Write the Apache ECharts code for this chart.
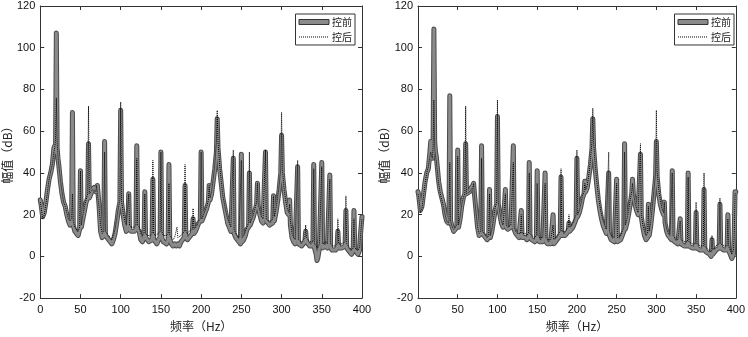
<!DOCTYPE html>
<html>
<head>
<meta charset="utf-8">
<script src="https://cdn.jsdelivr.net/npm/echarts@6/dist/echarts.min.js"></script>
<style>
html,body{margin:0;padding:0;background:#fff;}
#c{width:748px;height:337px;}
</style>
</head>
<body>
<div id="c"></div>
<script>
// ---- Data (frequency Hz, amplitude dB) ----
var xTicks = [0, 50, 100, 150, 200, 250, 300, 350, 400];
var yTicks = [-20, 0, 20, 40, 60, 80, 100, 120];
var seriesNames = ['控前', '控后'];

var leftBefore = [[0,27],[1,25],[3,19],[5,21],[7,26],[9,32],[11,37],[13,40],[15,44],[17,52],[18,53],[19,50],[20,107],[21,52],[22,47],[23,44],[25,36],[27,30],[29,26],[31,24],[33,20],[35,17],[37,15],[39,16],[40,69],[41,15],[43,12],[45,11],[47,10],[49,13],[50,41],[51,14],[53,18],[55,22],[57,26],[59,28],[60,54],[61,28],[63,30],[65,32],[67,33],[69,31],[71,34],[73,25],[75,12],[77,9],[79,10],[80,55],[81,10],[83,9],[85,8],[87,7],[89,6],[91,8],[93,11],[95,16],[97,22],[99,26],[100,70],[101,26],[103,20],[105,15],[107,12],[109,13],[110,30],[111,13],[113,12],[115,12],[117,12],[119,13],[120,53],[121,13],[123,12],[125,8],[127,7],[129,9],[130,31],[131,9],[133,8],[135,7],[137,7],[139,8],[140,37],[141,8],[143,7],[145,6],[147,8],[149,9],[150,50],[151,9],[153,7],[155,7],[157,6],[159,8],[160,44],[161,8],[163,6],[165,5],[167,6],[169,5],[171,6],[173,5],[175,7],[177,8],[179,9],[180,34],[181,9],[183,8],[185,9],[187,10],[189,11],[190,18],[191,11],[193,12],[195,14],[197,16],[199,17],[200,50],[201,17],[203,19],[205,21],[207,23],[209,26],[210,34],[211,27],[213,30],[215,36],[217,42],[219,50],[220,66],[221,52],[223,42],[225,35],[227,28],[229,24],[231,20],[233,16],[235,14],[237,12],[239,12],[240,47],[241,11],[243,9],[245,8],[247,7],[249,6],[250,49],[251,7],[253,8],[255,10],[257,13],[259,14],[260,40],[261,15],[263,17],[265,19],[267,22],[269,25],[270,35],[271,24],[273,20],[275,17],[277,16],[279,16],[280,50],[281,17],[283,16],[285,15],[287,15],[289,16],[290,29],[291,17],[293,21],[295,26],[297,32],[299,40],[300,58],[301,40],[303,32],[305,26],[307,21],[309,20],[310,27],[311,15],[313,9],[315,7],[317,6],[319,6],[320,43],[321,6],[323,6],[325,5],[327,6],[329,7],[330,12],[331,7],[333,6],[335,5],[337,5],[339,5],[340,44],[341,4],[343,1],[344,-2],[345,-1],[347,4],[349,4],[350,45],[351,4],[353,4],[355,5],[357,4],[359,4],[360,39],[361,4],[363,3],[365,3],[367,3],[369,4],[370,12],[371,4],[373,4],[375,4],[377,4],[379,5],[380,22],[381,4],[383,3],[385,2],[387,1],[389,3],[390,22],[391,3],[393,2],[395,1],[397,3],[398,10],[400,19]];

var leftAfter = [[0,26],[1,24],[3,18],[5,20],[7,25],[9,31],[11,37],[13,41],[15,44],[17,50],[18,52],[19,56],[20,76],[21,55],[22,48],[23,44],[25,37],[27,31],[29,26],[31,24],[33,21],[35,18],[37,17],[39,18],[40,30],[41,17],[43,14],[45,13],[47,12],[49,14],[50,41],[51,15],[53,20],[55,24],[57,27],[59,30],[60,72],[61,30],[63,31],[65,32],[67,32],[69,31],[70,34],[71,30],[73,24],[75,15],[77,11],[79,12],[80,50],[81,12],[83,11],[85,10],[87,9],[89,8],[91,10],[93,13],[95,18],[97,23],[99,27],[100,74],[101,27],[103,21],[105,17],[107,15],[109,15],[110,30],[111,15],[113,14],[115,14],[117,14],[119,15],[120,47],[121,15],[123,14],[125,11],[127,10],[129,11],[130,30],[131,11],[133,10],[135,10],[137,10],[139,11],[140,46],[141,11],[143,10],[145,10],[147,11],[149,12],[150,50],[151,12],[153,10],[155,10],[157,10],[159,11],[160,35],[161,10],[163,9],[165,8],[167,9],[169,9],[170,14],[171,9],[173,9],[175,10],[177,11],[179,12],[180,44],[181,12],[183,11],[185,12],[187,12],[189,13],[190,23],[191,13],[193,14],[195,15],[197,17],[199,18],[200,50],[201,18],[203,20],[205,22],[207,24],[209,27],[210,34],[211,28],[213,31],[215,37],[217,44],[219,55],[220,70],[221,55],[223,44],[225,36],[227,29],[229,25],[231,21],[233,18],[235,16],[237,14],[239,14],[240,51],[241,13],[243,11],[245,10],[247,9],[249,9],[250,46],[251,9],[253,10],[255,12],[257,14],[259,16],[260,50],[261,16],[263,18],[265,20],[267,23],[269,26],[270,35],[271,25],[273,22],[275,19],[277,18],[279,18],[280,51],[281,18],[283,17],[285,17],[287,17],[289,18],[290,29],[291,19],[293,23],[295,28],[297,34],[299,42],[300,69],[301,42],[303,33],[305,27],[307,23],[309,21],[310,25],[311,17],[313,11],[315,9],[317,8],[319,8],[320,46],[321,8],[323,8],[325,7],[327,8],[329,9],[330,15],[331,9],[333,8],[335,7],[337,7],[339,7],[340,42],[341,6],[343,5],[345,4],[347,6],[349,6],[350,43],[351,6],[353,6],[355,7],[357,6],[359,6],[360,37],[361,6],[363,5],[365,5],[367,5],[369,6],[370,18],[371,6],[373,6],[375,6],[377,6],[379,7],[380,29],[381,6],[383,5],[385,4],[387,3],[389,4],[390,18],[391,4],[393,4],[395,3],[397,4],[398,9],[400,18]];

var rightBefore = [[0,31],[1,29],[3,22],[5,24],[7,30],[9,36],[11,40],[13,42],[15,50],[16,55],[17,50],[18,47],[19,55],[20,109],[21,55],[22,50],[23,48],[24,44],[26,36],[28,31],[30,28],[32,25],[34,20],[36,17],[38,16],[39,17],[40,77],[41,17],[43,14],[45,12],[47,12],[49,14],[50,51],[51,14],[53,18],[55,24],[57,28],[59,30],[60,54],[61,30],[63,30],[65,31],[67,33],[69,34],[70,35],[71,30],[73,22],[75,14],[77,10],[79,11],[80,53],[81,11],[83,10],[85,9],[87,8],[89,9],[90,32],[91,9],[93,12],[95,17],[97,22],[99,25],[100,67],[101,25],[103,20],[105,16],[107,14],[109,14],[110,32],[111,14],[113,13],[115,13],[117,14],[119,14],[120,53],[121,13],[123,11],[125,10],[127,9],[129,9],[130,22],[131,9],[133,9],[135,9],[137,8],[139,9],[140,45],[141,9],[143,8],[145,8],[147,7],[149,8],[150,41],[151,8],[153,7],[155,7],[157,7],[159,7],[160,40],[161,7],[163,6],[165,6],[167,6],[169,6],[170,20],[171,6],[173,7],[175,8],[177,9],[179,10],[180,38],[181,10],[183,10],[185,10],[187,11],[189,12],[190,16],[191,12],[193,13],[195,14],[197,16],[199,18],[200,47],[201,19],[203,21],[205,24],[207,28],[209,30],[210,36],[211,31],[213,33],[215,38],[217,44],[219,52],[220,66],[221,52],[223,42],[225,34],[227,27],[229,22],[231,18],[233,15],[235,13],[237,11],[239,11],[240,40],[241,10],[243,8],[245,8],[247,7],[249,7],[250,37],[251,7],[253,7],[255,8],[257,10],[259,12],[260,54],[261,13],[263,16],[265,20],[267,25],[269,30],[270,37],[271,30],[273,25],[275,22],[277,20],[279,20],[280,49],[281,19],[283,14],[285,10],[287,8],[289,9],[290,25],[291,10],[293,15],[295,22],[297,30],[299,38],[300,55],[301,38],[303,30],[305,25],[307,22],[309,20],[310,26],[311,16],[313,12],[315,10],[317,9],[319,8],[320,41],[321,8],[323,7],[325,7],[327,6],[329,6],[330,18],[331,6],[333,6],[335,5],[337,5],[339,5],[340,40],[341,5],[343,5],[345,4],[347,4],[349,4],[350,21],[351,4],[353,4],[355,3],[357,3],[359,3],[360,32],[361,3],[363,2],[365,2],[367,1],[369,0],[370,8],[371,1],[373,2],[375,3],[377,3],[379,4],[380,25],[381,4],[383,4],[385,3],[387,3],[389,3],[390,20],[391,3],[393,1],[395,-1],[397,1],[398,10],[399,31],[400,31]];

var rightAfter = [[0,30],[1,28],[3,21],[5,23],[7,29],[9,35],[11,40],[13,43],[15,48],[16,50],[17,48],[18,47],[19,52],[20,75],[21,52],[22,48],[23,46],[24,42],[26,35],[28,30],[30,27],[32,24],[34,20],[36,17],[38,16],[39,17],[40,45],[41,17],[43,14],[45,13],[47,13],[49,15],[50,48],[51,15],[53,19],[55,25],[57,28],[59,30],[60,72],[61,30],[63,30],[65,31],[67,32],[69,33],[70,35],[71,29],[73,21],[75,14],[77,11],[79,12],[80,47],[81,12],[83,11],[85,10],[87,9],[89,10],[90,30],[91,10],[93,13],[95,18],[97,23],[99,26],[100,75],[101,26],[103,21],[105,17],[107,15],[109,15],[110,30],[111,15],[113,14],[115,14],[117,15],[119,15],[120,45],[121,14],[123,12],[125,11],[127,11],[129,11],[130,20],[131,11],[133,11],[135,11],[137,10],[139,11],[140,40],[141,11],[143,10],[145,10],[147,9],[149,10],[150,35],[151,10],[153,9],[155,9],[157,9],[159,9],[160,35],[161,9],[163,8],[165,8],[167,8],[169,8],[170,15],[171,8],[173,9],[175,10],[177,11],[179,12],[180,42],[181,12],[183,12],[185,12],[187,13],[189,14],[190,20],[191,14],[193,15],[195,16],[197,18],[199,20],[200,51],[201,20],[203,22],[205,25],[207,29],[209,31],[210,35],[211,32],[213,34],[215,39],[217,46],[219,55],[220,71],[221,55],[223,44],[225,36],[227,29],[229,24],[231,20],[233,17],[235,15],[237,13],[239,13],[240,50],[241,12],[243,10],[245,10],[247,9],[249,9],[250,35],[251,9],[253,9],[255,10],[257,12],[259,14],[260,50],[261,15],[263,18],[265,22],[267,27],[269,31],[270,35],[271,31],[273,26],[275,23],[277,21],[279,21],[280,54],[281,20],[283,15],[285,12],[287,10],[289,11],[290,24],[291,12],[293,17],[295,24],[297,32],[299,40],[300,70],[301,40],[303,32],[305,27],[307,23],[309,21],[310,26],[311,17],[313,13],[315,11],[317,10],[319,10],[320,40],[321,10],[323,9],[325,9],[327,8],[329,8],[330,17],[331,8],[333,8],[335,7],[337,7],[339,7],[340,38],[341,7],[343,7],[345,6],[347,6],[349,6],[350,26],[351,6],[353,6],[355,5],[357,5],[359,5],[360,40],[361,5],[363,4],[365,4],[367,3],[369,2],[370,10],[371,3],[373,4],[375,5],[377,5],[379,6],[380,28],[381,6],[383,6],[385,5],[387,5],[389,5],[390,18],[391,5],[393,3],[395,1],[397,3],[398,10],[399,30],[400,30]];

// ---- Chart ----
var chart = echarts.init(document.getElementById('c'), null, {renderer: 'canvas'});
var FONT = '"Liberation Sans", Arial, "Noto Sans CJK SC", sans-serif';
var CJK = '"Noto Sans CJK SC", "Liberation Sans", sans-serif';
var frameColor = '#333';

var grids = [
  {left: 39, top: 6, width: 323, height: 293},
  {left: 418, top: 6, width: 322, height: 293}
];

function xMain(gi) {
  return {
    type: 'value', gridIndex: gi, min: xTicks[0], max: xTicks[xTicks.length - 1], interval: 50,
    position: 'bottom',
    name: '频率（Hz）', nameLocation: 'middle', nameGap: 19,
    nameTextStyle: {fontFamily: CJK, fontSize: 12, color: '#222'},
    axisLine: {show: true, onZero: false, lineStyle: {color: frameColor, width: 1}},
    axisTick: {show: true, inside: true, length: 4, lineStyle: {color: frameColor}},
    axisLabel: {margin: 6, fontFamily: FONT, fontSize: 11, color: '#111'},
    splitLine: {show: false}
  };
}
function xTop(gi) {
  return {
    type: 'value', gridIndex: gi, min: xTicks[0], max: xTicks[xTicks.length - 1], interval: 50,
    position: 'top',
    axisLine: {show: true, onZero: false, lineStyle: {color: frameColor, width: 1}},
    axisTick: {show: true, inside: true, length: 4, lineStyle: {color: frameColor}},
    axisLabel: {show: false}, splitLine: {show: false}
  };
}
function yMain(gi) {
  return {
    type: 'value', gridIndex: gi, min: yTicks[0], max: yTicks[yTicks.length - 1], interval: 20,
    position: 'left',
    name: '幅值（dB）', nameLocation: 'middle', nameGap: 22, nameRotate: 90,
    nameTextStyle: {fontFamily: CJK, fontSize: 12, color: '#222'},
    axisLine: {show: true, onZero: false, lineStyle: {color: frameColor, width: 1}},
    axisTick: {show: true, inside: true, length: 4, lineStyle: {color: frameColor}},
    axisLabel: {margin: 5, fontFamily: FONT, fontSize: 11, color: '#111'},
    splitLine: {show: false}
  };
}
function yRight(gi) {
  return {
    type: 'value', gridIndex: gi, min: yTicks[0], max: yTicks[yTicks.length - 1], interval: 20,
    position: 'right',
    axisLine: {show: true, onZero: false, lineStyle: {color: frameColor, width: 1}},
    axisTick: {show: true, inside: true, length: 4, lineStyle: {color: frameColor}},
    axisLabel: {show: false}, splitLine: {show: false}
  };
}

function beforeSeries(data, ax) {
  return [
    {name: seriesNames[0], type: 'line', xAxisIndex: ax, yAxisIndex: ax, data: data,
     symbol: 'none', animation: false, z: 2,
     itemStyle: {color: '#8a8a8a'},
     lineStyle: {color: '#4a4a4a', width: 5, join: 'round', cap: 'round'}},
    {name: seriesNames[0], type: 'line', xAxisIndex: ax, yAxisIndex: ax, data: data,
     symbol: 'none', animation: false, z: 3,
     itemStyle: {color: '#8a8a8a'},
     lineStyle: {color: '#8a8a8a', width: 3, join: 'round', cap: 'round'}}
  ];
}
function afterSeries(data, ax) {
  return {name: seriesNames[1], type: 'line', xAxisIndex: ax, yAxisIndex: ax, data: data,
    symbol: 'none', animation: false, z: 4,
    itemStyle: {color: '#000'},
    lineStyle: {color: '#000', width: 1, type: [1, 1]}};
}

function legendFor(rightPx) {
  return {
    orient: 'vertical', top: 14, right: rightPx,
    padding: [3, 3, 3, 3], itemGap: 5, itemWidth: 30, itemHeight: 5,
    borderColor: '#333', borderWidth: 1, backgroundColor: '#fff',
    textStyle: {fontFamily: CJK, fontSize: 10, color: '#222', padding: [0, 0, 0, -2]},
    selectedMode: false,
    data: [
      {name: seriesNames[0], icon: 'rect', itemStyle: {color: '#8a8a8a', borderColor: '#333', borderWidth: 1}},
      {name: seriesNames[1], itemStyle: {opacity: 0}, lineStyle: {color: '#000', width: 1, type: [1, 1], opacity: 1}}
    ]
  };
}

var option = {
  backgroundColor: '#fff',
  animation: false,
  grid: grids,
  xAxis: [xMain(0), xMain(1), xTop(0), xTop(1)],
  yAxis: [yMain(0), yMain(1), yRight(0), yRight(1)],
  legend: [legendFor(748 - 355), legendFor(748 - 734)],
  series: [].concat(
    beforeSeries(leftBefore, 0), [afterSeries(leftAfter, 0)],
    beforeSeries(rightBefore, 1), [afterSeries(rightAfter, 1)]
  )
};
chart.setOption(option);
</script>
</body>
</html>
